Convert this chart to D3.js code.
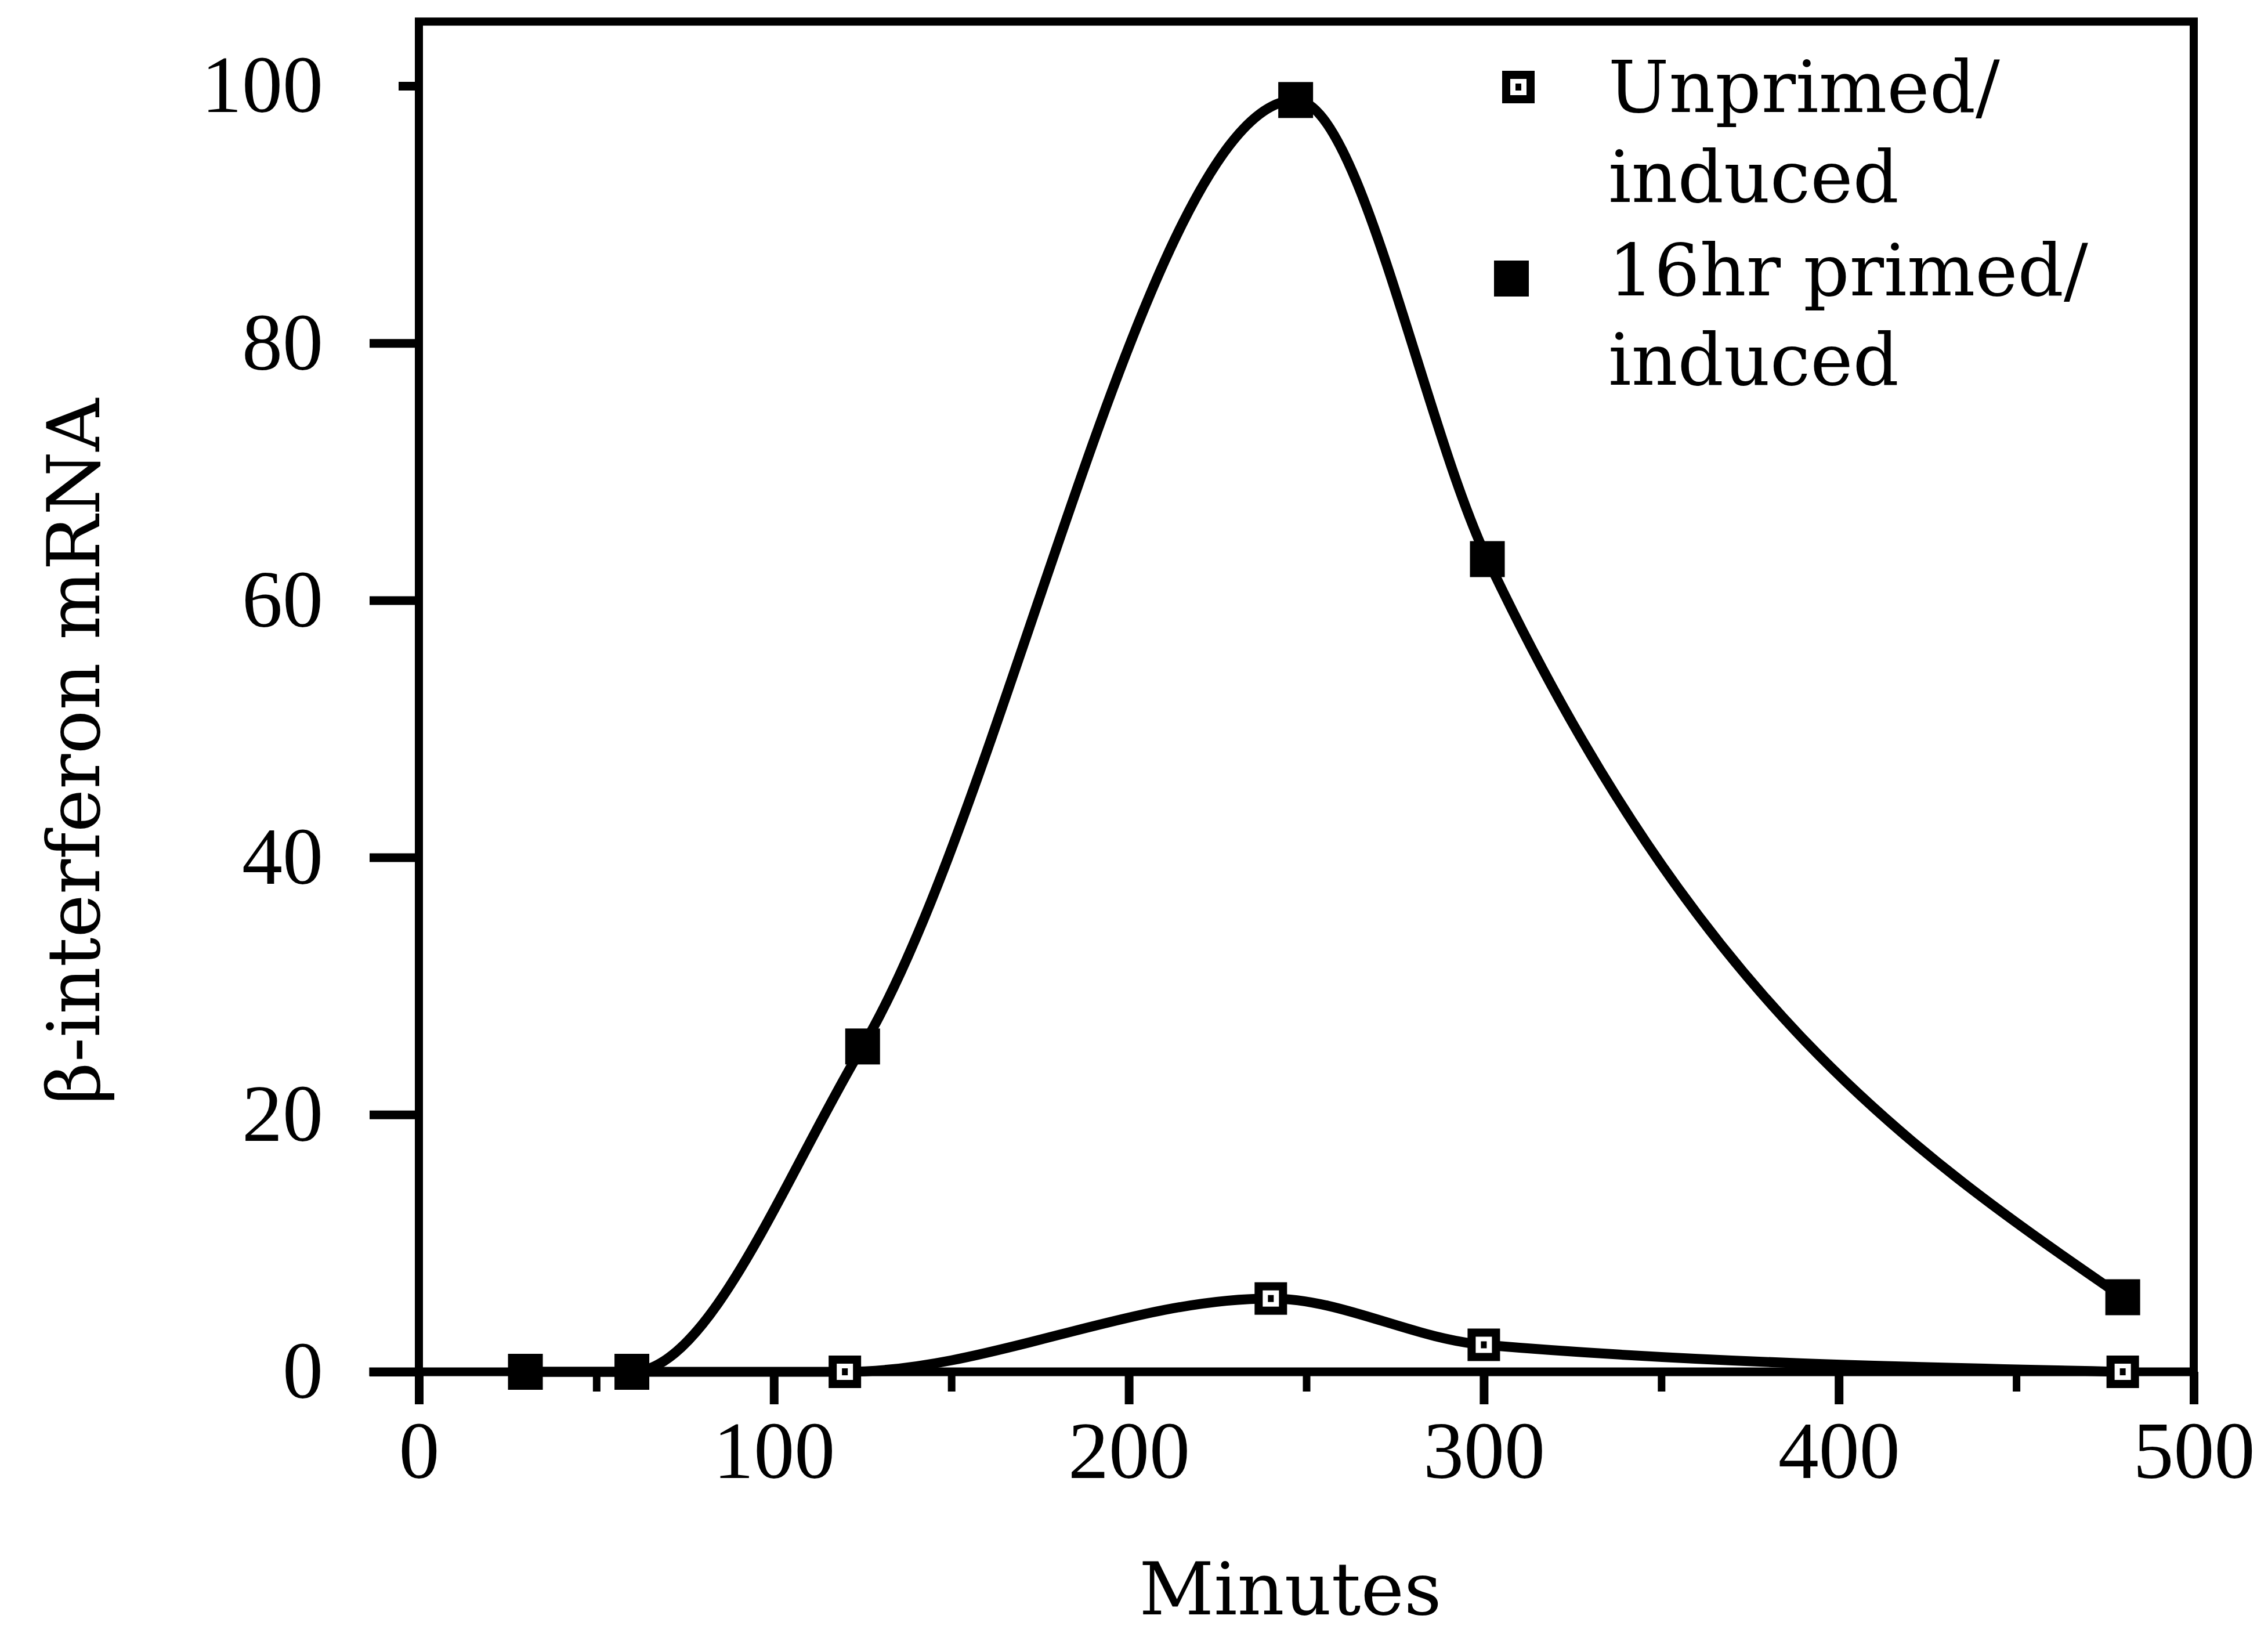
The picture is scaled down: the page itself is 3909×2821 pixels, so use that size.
<!DOCTYPE html>
<html>
<head>
<meta charset="utf-8">
<script src="https://cdn.jsdelivr.net/npm/d3@7"></script>
<style>
  body { margin: 0; background: #fff; }
</style>
</head>
<body>
<div id="chart"></div>
<script>
// values
const primedMinutes = [30, 60, 125, 247, 301, 480];
const primedMRNA = [0, 0, 25.3, 98.9, 63.2, 5.8];
const unprimedMinutes = [30, 60, 120, 240, 300, 480];
const unprimedMRNA = [0, 0, 0, 5.7, 2.1, 0];

const xTicks = [0, 100, 200, 300, 400, 500];
const xMinorTicks = [50, 150, 250, 350, 450];
const yTicks = [0, 20, 40, 60, 80, 100];

const legendLines = [
  ['Unprimed/', 'induced'],
  ['16hr primed/', 'induced']
];
const xTitle = 'Minutes';
const yTitle = 'β-interferon mRNA';

const W = 3909, H = 2821;
const frameTop = 105;      // y value of the top border
const axisStart = -14;     // x axis line runs a bit left of 0

const numFont = '"Liberation Serif", serif';
const textFont = '"DejaVu Serif", serif';

const x = d3.scaleLinear().domain([0, 500]).range([722, 3781]);
const y = d3.scaleLinear().domain([0, 100]).range([2364, 148]);

const svg = d3.select('#chart').append('svg')
  .attr('width', W)
  .attr('height', H)
  .style('background', '#fff');

const zip = (xs, ys) => xs.map((m, i) => ({m, v: ys[i]}));
const primed = zip(primedMinutes, primedMRNA);
const unprimed = zip(unprimedMinutes, unprimedMRNA);

// frame
svg.append('rect')
  .attr('x', x(0))
  .attr('y', y(frameTop))
  .attr('width', x(500) - x(0))
  .attr('height', y(0) - y(frameTop))
  .attr('fill', 'none')
  .attr('stroke', '#000')
  .attr('stroke-width', 14);

// curves (drawn under the axis line so the flat parts merge with it)
const line = d3.line()
  .x(d => x(d.m))
  .y(d => y(d.v))
  .curve(d3.curveMonotoneX);

[unprimed, primed].forEach(series => {
  svg.append('path')
    .datum(series)
    .attr('d', line)
    .attr('fill', 'none')
    .attr('stroke', '#000')
    .attr('stroke-width', 17)
    .attr('stroke-linejoin', 'round');
});

// x axis
svg.append('line')
  .attr('x1', x(axisStart)).attr('x2', x(500))
  .attr('y1', y(0)).attr('y2', y(0))
  .attr('stroke', '#000')
  .attr('stroke-width', 15);

const xAxis = svg.append('g')
  .attr('transform', `translate(0,${y(0)})`)
  .call(d3.axisBottom(x).tickValues(xTicks).tickSize(56).tickPadding(28));
xAxis.select('.domain').remove();
xAxis.attr('font-family', numFont).attr('font-size', 140);
xAxis.selectAll('line').attr('stroke-width', 15);

const xMinor = svg.append('g')
  .attr('transform', `translate(0,${y(0)})`)
  .call(d3.axisBottom(x).tickValues(xMinorTicks).tickSize(34).tickFormat(''));
xMinor.select('.domain').remove();
xMinor.selectAll('line').attr('stroke-width', 13);

// y axis
const yAxis = svg.append('g')
  .attr('transform', `translate(${x(0)},0)`)
  .call(d3.axisLeft(y).tickValues(yTicks).tickSize(85).tickPadding(80));
yAxis.select('.domain').remove();
yAxis.attr('font-family', numFont).attr('font-size', 140);
yAxis.selectAll('line').attr('stroke-width', 15);
yAxis.selectAll('text').attr('dy', '0.32em');
yAxis.selectAll('.tick').filter(d => d === 100).select('line').attr('x2', -35);

// markers
const openMarker = (sel) => {
  sel.append('rect')
    .attr('x', -21).attr('y', -21)
    .attr('width', 42).attr('height', 42)
    .attr('fill', '#fff')
    .attr('stroke', '#000')
    .attr('stroke-width', 14);
  sel.append('rect')
    .attr('x', -5).attr('y', -6)
    .attr('width', 10).attr('height', 12)
    .attr('fill', '#000');
};
const filledMarker = (sel) => {
  sel.append('rect')
    .attr('x', -30).attr('y', -31)
    .attr('width', 60).attr('height', 62)
    .attr('fill', '#000');
};

svg.selectAll('.open')
  .data(unprimed)
  .enter().append('g')
  .attr('class', 'open')
  .attr('transform', d => `translate(${x(d.m)},${y(d.v)})`)
  .call(openMarker);

svg.selectAll('.filled')
  .data(primed)
  .enter().append('g')
  .attr('class', 'filled')
  .attr('transform', d => `translate(${x(d.m)},${y(d.v)})`)
  .call(filledMarker);

// legend
const legend = svg.append('g');
legend.append('g').attr('transform', 'translate(2617,150)').call(openMarker);
legend.append('g').attr('transform', 'translate(2605,480)').call(filledMarker);

const legendBase = [193, 348, 509, 663];
legendLines.flat().forEach((t, i) => {
  legend.append('text')
    .attr('x', 2772)
    .attr('y', legendBase[i])
    .attr('font-family', textFont)
    .attr('font-size', 124)
    .text(t);
});

// titles
svg.append('text')
  .attr('x', 2224)
  .attr('y', 2782)
  .attr('text-anchor', 'middle')
  .attr('font-family', textFont)
  .attr('font-size', 126)
  .text(xTitle);

svg.append('text')
  .attr('transform', 'translate(171,1295) rotate(-90)')
  .attr('text-anchor', 'middle')
  .attr('font-family', textFont)
  .attr('font-size', 126)
  .text(yTitle);
</script>
</body>
</html>
